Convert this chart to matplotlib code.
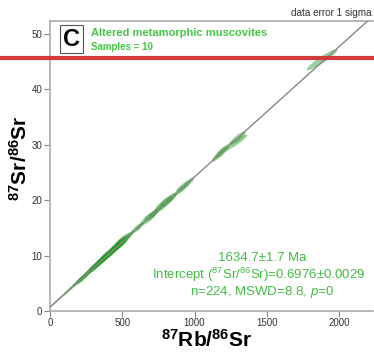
import numpy as np
import matplotlib
matplotlib.use("Agg")
import matplotlib.pyplot as plt
from matplotlib.patches import Ellipse
from matplotlib.lines import Line2D

plt.rcParams['font.family'] = ['Liberation Sans', 'DejaVu Sans']
plt.rcParams['mathtext.fontset'] = 'custom'
plt.rcParams['mathtext.rm'] = 'Liberation Sans'
plt.rcParams['mathtext.it'] = 'Liberation Sans:italic'
plt.rcParams['mathtext.bf'] = 'Liberation Sans:bold'

# Rb-Sr isochron data: 87Rb/86Sr, 87Sr/86Sr, 1-sigma errors and error correlation
rb_sr = [12, 25, 38, 52, 66, 80, 95, 108, 122, 137, 150, 163, 176, 190, 203,
         215, 228, 240, 252, 263, 275, 286, 298, 310, 322, 333, 345, 356, 368,
         379, 390, 402, 413, 425, 437, 448, 460, 472, 485, 498,
         205, 230, 260, 300, 318, 340, 365, 385, 405, 420, 440, 455, 470, 490,
         505, 520, 545, 560, 600, 620, 680, 700, 720, 760, 785, 820, 840,
         900, 925, 960, 1160, 1190, 1265, 1300, 1882]
sr_sr = [0.98, 1.30, 1.60, 1.92, 2.26, 2.58, 2.93, 3.24, 3.56, 3.92, 4.22,
         4.55, 4.84, 5.18, 5.50, 5.75, 6.08, 6.36, 6.62, 6.92, 7.18, 7.42,
         7.72, 7.98, 8.30, 8.52, 8.85, 9.05, 9.38, 9.62, 9.95, 10.18, 10.42,
         10.70, 11.05, 11.25, 11.55, 11.80, 12.15, 12.45,
         5.45, 6.00, 6.80, 7.78, 8.20, 8.72, 9.30, 9.85, 10.30, 10.55, 11.10,
         11.50, 11.70, 12.30,
         12.85, 12.90, 13.55, 13.90, 14.90, 15.25, 16.70, 17.20, 17.55, 18.60,
         19.25, 20.00, 20.40, 21.80, 22.45, 23.20, 27.90, 28.70, 30.10, 31.20,
         45.30]
s_rb = [8, 9, 10, 11, 12, 12, 13, 14, 15, 16, 17, 18, 19, 20, 21, 22, 23, 24,
        25, 26, 27, 28, 29, 30, 31, 32, 33, 34, 35, 36, 37, 38, 36, 36, 38, 38,
        38, 40, 40, 42,
        28, 32, 28, 38, 26, 38, 38, 42, 26, 42, 32, 42, 32, 48,
        50, 40, 32, 28, 38, 32, 55, 48, 38, 42, 60, 55, 38, 42, 48, 38, 42,
        48, 100, 55, 107]
s_sr = [0.24, 0.26, 0.28, 0.30, 0.32, 0.33, 0.35, 0.37, 0.39, 0.41, 0.43,
        0.45, 0.47, 0.49, 0.51, 0.53, 0.55, 0.57, 0.60, 0.62, 0.65, 0.67,
        0.69, 0.71, 0.74, 0.75, 0.78, 0.80, 0.83, 0.85, 0.88, 0.92, 0.88,
        0.88, 0.93, 0.93, 0.93, 0.98, 1.00, 1.05,
        0.70, 0.75, 0.70, 0.90, 0.65, 0.95, 0.95, 1.05, 0.65, 1.05, 0.80,
        1.05, 0.80, 1.15,
        1.20, 0.95, 0.80, 0.70, 0.90, 0.80, 1.25, 1.10, 0.90, 1.00, 1.40,
        1.25, 0.90, 1.00, 1.10, 0.90, 1.00, 1.10, 1.70, 1.20, 1.90]
rho = [0.72] * 54 + [0.82] * 18 + [0.93, 0.85, 0.93]

# Isochron fit
age_ma = 1634.7
intercept = 0.6976
decay_const = 1.42e-11  # 87Rb, per year
slope = np.exp(decay_const * age_ma * 1e6) - 1

xticks = [0, 500, 1000, 1500, 2000]
yticks = [0, 10, 20, 30, 40, 50]

W, H = 374, 353
fig = plt.figure(figsize=(W / 100, H / 100), dpi=100)
ax = fig.add_axes([50 / W, (H - 311) / H, (W - 51) / W, (311 - 21) / H])
xmax, ymax = 2235, 52.3
ax.set_xlim(0, xmax)
ax.set_ylim(0, ymax)

green = '#1f9a1f'
for x, y, sx, sy, r in zip(rb_sr, sr_sr, s_rb, s_sr, rho):
    cov = np.array([[sx * sx, r * sx * sy], [r * sx * sy, sy * sy]])
    vals, vecs = np.linalg.eigh(cov)
    major = vecs[:, 1]
    ang = np.degrees(np.arctan2(major[1], major[0]))
    e = Ellipse((x, y), width=2 * np.sqrt(vals[1]), height=2 * np.sqrt(vals[0]),
                angle=ang, facecolor=green, edgecolor='none', alpha=0.45,
                zorder=2)
    ax.add_patch(e)

xx = np.array([0, xmax])
ax.plot(xx, intercept + slope * xx, color='#888888', lw=1.0, zorder=3)

for side in ['left', 'bottom', 'top']:
    ax.spines[side].set_color('#aaaaaa')
    ax.spines[side].set_linewidth(1.2)
ax.spines['right'].set_visible(False)
ax.set_xticks(xticks)
ax.set_yticks(yticks)
ax.tick_params(direction='out', length=4, width=0.8, color='#888888',
               labelsize=7, labelcolor='#333333', pad=1.5)
ax.tick_params(axis='x', pad=1)

ax.set_xlabel(r'$^{\mathbf{87}}$Rb/$^{\mathbf{86}}$Sr', fontsize=15,
              fontweight='bold')
ax.set_ylabel(r'$^{\mathbf{87}}$Sr/$^{\mathbf{86}}$Sr', fontsize=15,
              fontweight='bold')
ax.xaxis.set_label_coords((207 - 50) / (W - 51), -(340 - 311) / (311 - 21))
ax.yaxis.set_label_coords(-(50 - 20) / (W - 51), (311 - 158) / (311 - 21))
ax.xaxis.label.set_va('center')
ax.yaxis.label.set_va('center')

def px(x, y):
    return x / W, 1 - y / H

fig.text(*px(372, 13), 'data error 1 sigma', ha='right', va='center',
         fontsize=7.2, color='#333333')
fig.text(*px(71.5, 39), 'C', ha='center', va='center', fontsize=17,
         fontweight='bold', color='black',
         bbox=dict(boxstyle='square,pad=0.12', facecolor='white',
                   edgecolor='#555555', linewidth=0.8))
fig.text(*px(91, 33), 'Altered metamorphic muscovites', ha='left',
         va='center', fontsize=8, fontweight='bold', color='#44c844')
fig.text(*px(91, 47), 'Samples = 10', ha='left', va='center', fontsize=7,
         fontweight='bold', color='#44c844')

tg = '#44bb44'
fig.text(*px(262, 258), f'{age_ma}±1.7 Ma', ha='center', va='center',
         fontsize=9.5, color=tg)
fig.text(*px(259, 275),
         r'Intercept ($^{87}$Sr/$^{86}$Sr)=' + f'{intercept:.4f}±0.0029',
         ha='center', va='center', fontsize=9.5, color=tg)
fig.text(*px(262, 292), r'n=224, MSWD=8.8, $\it{p}$=0', ha='center',
         va='center', fontsize=9.5, color=tg)

# red horizontal rule across the figure
fig.add_artist(Line2D([0, 1], [1 - 58 / H, 1 - 58 / H], color='#d03a3a',
                      lw=3.0, transform=fig.transFigure, zorder=10))

fig.savefig('out.png', dpi=100)
